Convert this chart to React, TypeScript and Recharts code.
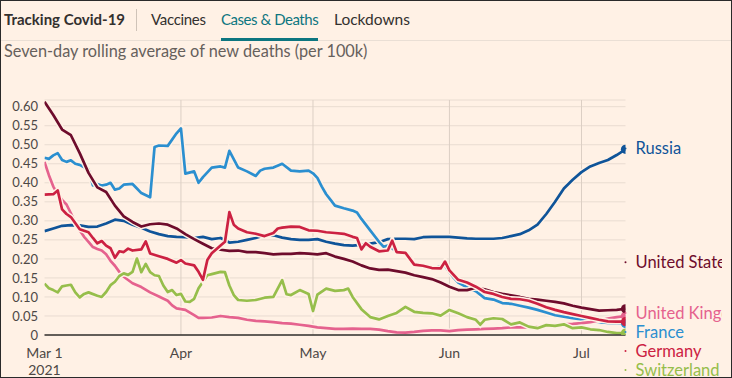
import React from 'react';
import { LineChart, Line, XAxis, YAxis, CartesianGrid, ReferenceLine, ReferenceDot } from 'recharts';

// ---- axis data ----
const monthTicks = [0, 31, 61, 92, 122];
const monthLabels = ['Mar 1', 'Apr', 'May', 'Jun', 'Jul'];
const yearLabel = '2021';
const gridMonths = [31, 61, 92, 122];
const yTicks = [0, 0.05, 0.1, 0.15, 0.2, 0.25, 0.3, 0.35, 0.4, 0.45, 0.5, 0.55, 0.6];
const yTickLabels = ['0', '0.05', '0.10', '0.15', '0.20', '0.25', '0.30', '0.35', '0.40', '0.45', '0.50', '0.55', '0.60'];

// ---- series (day index from Mar 1 2021, deaths per 100k) ----
const russiaDays = [0,2,4,6,8,10,12,14,16,18,20,22,24,26,28,30,32,34,36,38,40,42,44,46,48,50,52,54,56,58,60,62,64,66,68,70,72,74,76,78,80,82,84,86,88,90,92,94,96,98,100,102,104,106,108,110,112,114,116,118,120,122,124,126,128,130,132];
const russiaValues = [0.273,0.28,0.287,0.289,0.288,0.284,0.285,0.293,0.303,0.3,0.29,0.282,0.272,0.265,0.26,0.258,0.257,0.255,0.258,0.252,0.255,0.243,0.245,0.25,0.255,0.262,0.262,0.256,0.252,0.25,0.25,0.252,0.245,0.24,0.236,0.235,0.237,0.24,0.244,0.252,0.253,0.253,0.252,0.257,0.258,0.258,0.258,0.256,0.254,0.253,0.253,0.253,0.255,0.26,0.265,0.275,0.29,0.318,0.35,0.385,0.408,0.428,0.443,0.452,0.46,0.473,0.488];

const usDays = [0,2,4,6,8,10,12,14,16,18,20,22,24,26,28,30,32,34,36,38,40,42,44,46,48,50,52,54,56,58,60,62,64,66,68,70,72,74,76,78,80,82,84,86,88,90,92,94,96,98,100,102,104,106,108,110,112,114,116,118,120,122,124,126,128,130,132];
const usValues = [0.613,0.578,0.54,0.525,0.478,0.426,0.388,0.376,0.34,0.312,0.297,0.285,0.291,0.293,0.29,0.28,0.265,0.252,0.24,0.228,0.224,0.221,0.222,0.218,0.218,0.215,0.212,0.213,0.213,0.215,0.214,0.212,0.215,0.206,0.2,0.193,0.183,0.175,0.171,0.172,0.168,0.164,0.157,0.152,0.147,0.138,0.127,0.118,0.118,0.124,0.12,0.113,0.108,0.104,0.1,0.095,0.093,0.09,0.087,0.083,0.077,0.072,0.068,0.064,0.065,0.066,0.069];

const ukDays = [0,1,2,3,4,5,6,7,8,9,10,11,12,13,14,15,16,17,18,20,22,24,26,28,29,30,32,34,35,36,38,40,42,44,46,48,50,52,54,56,58,60,62,64,66,68,70,72,74,76,78,80,82,84,86,88,90,92,94,96,98,100,102,104,106,108,110,112,114,116,118,120,122,124,126,128,130,132];
const ukValues = [0.455,0.42,0.39,0.37,0.355,0.343,0.32,0.295,0.275,0.258,0.245,0.231,0.226,0.222,0.212,0.195,0.182,0.166,0.153,0.136,0.126,0.112,0.101,0.09,0.078,0.07,0.066,0.052,0.045,0.045,0.046,0.05,0.047,0.045,0.04,0.037,0.036,0.034,0.031,0.03,0.027,0.024,0.02,0.018,0.016,0.016,0.017,0.016,0.016,0.014,0.01,0.007,0.006,0.008,0.011,0.012,0.012,0.01,0.013,0.014,0.015,0.016,0.017,0.018,0.02,0.02,0.02,0.022,0.023,0.026,0.028,0.029,0.031,0.034,0.038,0.043,0.047,0.05];

const franceDays = [0,1,2,3,4,5,6,7,8,10,11,12,13,14,15,16,17,18,20,21,22,24,25,26,28,30,31,32,34,35,36,38,40,41,42,44,46,48,49,50,52,54,56,58,60,61,62,63,64,65,66,68,70,71,72,74,76,77,78,80,82,83,84,86,88,90,91,92,93,94,96,98,100,102,104,106,108,110,112,114,116,118,120,122,124,126,128,130,132];
const franceValues = [0.466,0.463,0.472,0.478,0.46,0.455,0.459,0.45,0.447,0.435,0.393,0.397,0.393,0.395,0.4,0.382,0.385,0.395,0.397,0.385,0.373,0.362,0.494,0.498,0.497,0.53,0.543,0.424,0.43,0.4,0.415,0.44,0.443,0.44,0.484,0.44,0.43,0.418,0.432,0.437,0.44,0.45,0.432,0.43,0.432,0.425,0.413,0.39,0.37,0.355,0.34,0.333,0.327,0.322,0.305,0.275,0.245,0.232,0.235,0.22,0.215,0.205,0.185,0.18,0.175,0.18,0.182,0.165,0.15,0.138,0.125,0.115,0.097,0.093,0.084,0.082,0.077,0.072,0.066,0.059,0.052,0.048,0.044,0.041,0.037,0.034,0.032,0.031,0.03];

const germanyDays = [0,2,3,4,5,6,8,10,11,12,13,14,15,16,17,18,19,20,22,23,24,26,28,30,31,32,34,35,36,37,38,40,41,42,43,44,46,48,50,52,53,54,56,58,60,62,64,66,68,70,71,72,73,74,76,78,79,80,82,84,86,88,90,91,92,94,96,98,100,102,104,106,108,110,112,114,116,118,120,122,124,126,128,130,132];
const germanyValues = [0.369,0.37,0.38,0.33,0.318,0.31,0.278,0.27,0.255,0.241,0.247,0.235,0.228,0.203,0.22,0.218,0.227,0.222,0.225,0.246,0.214,0.207,0.2,0.19,0.197,0.188,0.183,0.166,0.145,0.197,0.215,0.235,0.245,0.323,0.29,0.28,0.27,0.266,0.26,0.268,0.28,0.282,0.285,0.284,0.275,0.274,0.27,0.268,0.266,0.258,0.255,0.225,0.241,0.232,0.22,0.222,0.248,0.218,0.216,0.185,0.182,0.176,0.175,0.193,0.17,0.145,0.138,0.127,0.113,0.108,0.1,0.095,0.094,0.09,0.082,0.073,0.066,0.06,0.055,0.05,0.045,0.04,0.036,0.035,0.035];

const swissDays = [0,1,2,3,4,5,6,7,8,9,10,12,13,14,15,16,17,18,19,20,21,22,23,24,25,26,27,28,29,30,31,32,33,34,35,36,37,38,40,41,42,43,44,46,48,50,52,54,55,56,58,60,61,62,64,66,68,69,70,72,74,76,78,80,82,84,86,88,90,92,94,96,98,99,100,102,104,106,108,110,112,114,116,118,120,122,124,126,128,130,132];
const swissValues = [0.135,0.123,0.118,0.112,0.128,0.13,0.132,0.112,0.099,0.108,0.112,0.103,0.1,0.113,0.131,0.14,0.155,0.162,0.158,0.166,0.201,0.165,0.187,0.165,0.157,0.155,0.13,0.113,0.118,0.105,0.108,0.088,0.087,0.095,0.123,0.14,0.157,0.16,0.166,0.165,0.13,0.105,0.092,0.09,0.092,0.098,0.1,0.144,0.107,0.105,0.118,0.108,0.063,0.106,0.122,0.116,0.118,0.122,0.1,0.068,0.047,0.041,0.05,0.058,0.074,0.061,0.058,0.057,0.051,0.066,0.057,0.047,0.04,0.027,0.04,0.044,0.042,0.028,0.033,0.022,0.018,0.026,0.024,0.028,0.018,0.02,0.015,0.013,0.008,0.005,0.005];

// label names and where their labels sit (in data units) at the right edge
const countryNames = ['Russia', 'United States', 'United Kingdom', 'France', 'Germany', 'Switzerland'];
const labelValues = [0.49, 0.191, 0.058, 0.008, -0.042, -0.092];
const lastDay = 132;

const BG = '#FFF1E5';
const FONT = 'Lato, "Open Sans", sans-serif';

const zip = (days: number[], values: number[]) => {
  const n = Math.min(days.length, values.length);
  const out: { day: number; value: number }[] = [];
  for (let i = 0; i < n; i++) out.push({ day: days[i], value: values[i] });
  return out;
};

type Series = { key: string; name: string; color: string; data: { day: number; value: number }[] };

// drawing order: bottom to top
const series: Series[] = [
  { key: 'russia', name: countryNames[0], color: '#0f5499', data: zip(russiaDays, russiaValues) },
  { key: 'france', name: countryNames[3], color: '#2b8fd0', data: zip(franceDays, franceValues) },
  { key: 'uk', name: countryNames[2], color: '#e5628e', data: zip(ukDays, ukValues) },
  { key: 'swiss', name: countryNames[5], color: '#96be4b', data: zip(swissDays, swissValues) },
  { key: 'us', name: countryNames[1], color: '#6e0c2c', data: zip(usDays, usValues) },
  { key: 'germany', name: countryNames[4], color: '#cc2142', data: zip(germanyDays, germanyValues) },
];

const labelColors = ['#0f5499', '#6e0c2c', '#e5628e', '#2b8fd0', '#cc2142', '#96be4b'];

const makeEndDot = (color: string, lastIndex: number) => (props: any) => {
  const { cx, cy, index } = props;
  if (index !== lastIndex || cx == null || cy == null) return <g key={`dot-${index}`} />;
  return <circle key={`dot-${index}`} cx={cx} cy={cy} r={4.6} fill={color} stroke="none" />;
};

const XTick = (props: any) => {
  const { x, y, payload } = props;
  const i = monthTicks.indexOf(payload.value);
  if (i < 0) return <g />;
  return (
    <g>
      <text x={x} y={y + 23} textAnchor="middle" fill="#4d4845" fontSize={14} fontFamily={FONT}>
        {monthLabels[i]}
      </text>
      {i === 0 && (
        <text x={x} y={y + 40} textAnchor="middle" fill="#4d4845" fontSize={14} fontFamily={FONT}>
          {yearLabel}
        </text>
      )}
    </g>
  );
};

export default function App() {
  return (
    <div
      style={{
        position: 'absolute',
        left: 0,
        top: 0,
        width: 732,
        height: 378,
        boxSizing: 'border-box',
        border: '1px solid #2a2a2a',
        background: BG,
        overflow: 'hidden',
        fontFamily: FONT,
      }}
    >
      <div style={{ position: 'absolute', left: 3, top: 9, fontSize: 15, fontWeight: 700, color: '#33302e', whiteSpace: 'nowrap' }}>
        Tracking Covid-19
      </div>
      <div style={{ position: 'absolute', left: 135, top: 8, width: 1, height: 22, background: '#cfc3b8' }} />
      <div style={{ position: 'absolute', left: 150, top: 9, fontSize: 15, color: '#33302e', whiteSpace: 'nowrap', letterSpacing: -0.3 }}>Vaccines</div>
      <div style={{ position: 'absolute', left: 220, top: 9, fontSize: 15, color: '#0d7680', whiteSpace: 'nowrap', letterSpacing: -0.45 }}>Cases &amp; Deaths</div>
      <div style={{ position: 'absolute', left: 333, top: 9, fontSize: 15.5, color: '#33302e', whiteSpace: 'nowrap' }}>Lockdowns</div>
      <div style={{ position: 'absolute', left: 0, top: 39, width: 732, height: 1, background: '#eadfd5' }} />
      <div style={{ position: 'absolute', left: 220, top: 37, width: 97, height: 3, background: '#0d7680' }} />
      <div style={{ position: 'absolute', left: 3, top: 40, fontSize: 16.3, color: '#66605c', whiteSpace: 'nowrap' }}>
        Seven-day rolling average of new deaths (per 100k)
      </div>

      <div style={{ position: 'absolute', left: -1, top: -1 }}>
        <LineChart width={722} height={378} margin={{ top: 100, right: 96.5, bottom: 3, left: 4.5 }}>
          <CartesianGrid vertical={false} stroke="#e9dcd1" strokeWidth={1} />
          {gridMonths.map((m) => (
            <ReferenceLine key={`m-${m}`} x={m} stroke="#dccfc4" strokeWidth={1} />
          ))}
          <XAxis
            dataKey="day"
            type="number"
            domain={[0, lastDay]}
            ticks={monthTicks}
            interval={0}
            tick={<XTick />}
            tickLine={false}
            tickSize={0}
            tickMargin={0}
            axisLine={{ stroke: '#33302e', strokeWidth: 1.5 }}
            height={40}
            allowDataOverflow
          />
          <YAxis
            type="number"
            domain={[0, 0.6176]}
            ticks={yTicks}
            interval={0}
            tickFormatter={(v: number) => yTickLabels[yTicks.indexOf(v)] ?? String(v)}
            axisLine={false}
            tickLine={false}
            tickSize={0}
            tickMargin={6.5}
            width={40}
            tick={{ fill: '#4d4845', fontSize: 13, fontFamily: FONT }}
            allowDataOverflow
          />
          {series.flatMap((s) => [
            <Line
              key={`${s.key}-halo`}
              data={s.data}
              dataKey="value"
              name={`${s.name} halo`}
              type="linear"
              stroke={BG}
              strokeWidth={5.5}
              dot={false}
              activeDot={false}
              legendType="none"
              isAnimationActive={false}
            />,
            <Line
              key={s.key}
              data={s.data}
              dataKey="value"
              name={s.name}
              type="linear"
              stroke={s.color}
              strokeWidth={2.7}
              strokeLinejoin="round"
              dot={makeEndDot(s.color, s.data.length - 1)}
              activeDot={false}
              isAnimationActive={false}
            />,
          ])}
          {countryNames.map((name, i) => (
            <ReferenceDot
              key={`lab-${name}`}
              x={lastDay}
              y={labelValues[i]}
              r={1}
              fill={labelColors[i]}
              stroke="none"
              ifOverflow="visible"
              label={{ value: name, position: 'right', offset: 9, fill: labelColors[i], fontSize: 16.5, fontFamily: FONT }}
            />
          ))}
        </LineChart>
      </div>
    </div>
  );
}
